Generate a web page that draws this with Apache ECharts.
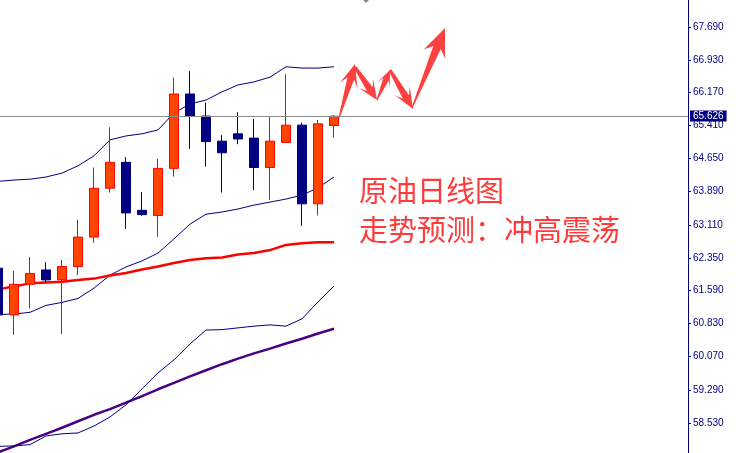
<!DOCTYPE html>
<html>
<head>
<meta charset="utf-8">
<script src="https://cdn.jsdelivr.net/npm/echarts@6/dist/echarts.min.js"></script>
<style>
html,body{margin:0;padding:0;background:#fff;}
#c{width:736px;height:453px;}
</style>
</head>
<body>
<div id="c"></div>
<script>
// ---- data (candle index 0..21) ----
const opens  = [62.11, 61.03, 61.74, 62.07, 61.84, 62.15, 62.83, 63.96, 64.56, 63.45, 63.33, 64.42, 66.14, 65.63, 65.05, 65.22, 65.12, 64.44, 65.02, 65.42, 63.60, 65.41];
const highs  = [62.16, 62.05, 62.37, 62.25, 62.30, 63.23, 64.44, 65.37, 64.68, 63.87, 64.64, 66.52, 66.67, 65.94, 65.19, 65.72, 65.56, 65.63, 66.60, 65.48, 65.54, 65.65];
const lows   = [60.96, 60.57, 61.18, 61.78, 60.59, 61.95, 62.70, 63.86, 63.02, 63.32, 62.84, 64.23, 64.87, 64.46, 63.86, 64.98, 63.92, 63.69, 65.01, 63.09, 63.33, 65.13];
const closes = [61.03, 61.74, 61.99, 61.84, 62.15, 62.83, 63.96, 64.56, 63.39, 63.35, 64.42, 66.14, 65.62, 65.04, 64.78, 65.10, 64.44, 65.05, 65.42, 63.60, 65.45, 65.626];

const bbUpper  = [64.12, 64.15, 64.17, 64.22, 64.31, 64.48, 64.71, 65.08, 65.17, 65.22, 65.31, 65.70, 65.91, 66.00, 66.19, 66.35, 66.42, 66.53, 66.77, 66.74, 66.74, 66.77];
const bbLower  = [61.04, 61.05, 61.09, 61.25, 61.32, 61.41, 61.65, 61.95, 62.14, 62.28, 62.46, 62.79, 63.13, 63.36, 63.41, 63.48, 63.57, 63.64, 63.71, 63.80, 63.97, 64.22];
const maRed    = [61.62, 61.69, 61.76, 61.78, 61.80, 61.84, 61.87, 61.94, 62.00, 62.08, 62.15, 62.23, 62.30, 62.34, 62.36, 62.43, 62.46, 62.53, 62.65, 62.69, 62.71, 62.71];
const envLower = [57.99, 58.00, 58.03, 58.23, 58.28, 58.30, 58.46, 58.67, 58.95, 59.32, 59.69, 59.99, 60.36, 60.68, 60.69, 60.73, 60.77, 60.80, 60.77, 60.94, 61.33, 61.70];
const maPurple = [57.85, 57.99, 58.14, 58.28, 58.42, 58.57, 58.72, 58.85, 59.00, 59.15, 59.31, 59.46, 59.61, 59.75, 59.89, 60.02, 60.14, 60.25, 60.37, 60.48, 60.60, 60.71];

const currentPrice = 65.626;
const tickValues = [58.53, 59.29, 60.07, 60.83, 61.59, 62.35, 63.11, 63.89, 64.65, 65.41, 66.17, 66.93, 67.69];
const titleLines = ['原油日线图', '走势预测：冲高震荡'];

// ---- build series data ----
const candleData = opens.map((o, i) => [i, o, closes[i], lows[i], highs[i]]);
const toXY = arr => arr.map((v, i) => [i, v]);

// arrow polygon helper for the annotation
function arrowPoly(x1, y1, x2, y2, w0, w1, headLen, headW) {
  const dx = x2 - x1, dy = y2 - y1, L = Math.hypot(dx, dy);
  const ux = dx / L, uy = dy / L, nx = -uy, ny = ux;
  const bx = x2 - ux * headLen, by = y2 - uy * headLen;
  const nbx = bx + ux * 4, nby = by + uy * 4;
  const sb = 3;
  return [
    [x1 + nx * w0 / 2, y1 + ny * w0 / 2],
    [nbx + nx * w1 / 2, nby + ny * w1 / 2],
    [bx - ux * sb + nx * headW / 2, by - uy * sb + ny * headW / 2],
    [x2, y2],
    [bx - ux * sb - nx * headW / 2, by - uy * sb - ny * headW / 2],
    [nbx - nx * w1 / 2, nby - ny * w1 / 2],
    [x1 - nx * w0 / 2, y1 - ny * w0 / 2]
  ];
}
const arrowSpecs = [
  [339, 118, 355, 64, 1, 7, 19, 18],
  [355, 67, 377, 100, 3, 7, 17, 17],
  [377, 100, 390, 70, 1, 6, 14, 14],
  [390, 70, 413, 109, 3, 7, 18, 17],
  [412, 108, 445, 28, 1, 8, 25, 23]
];
const arrowGraphics = arrowSpecs.map(s => ({
  type: 'polygon',
  shape: { points: arrowPoly.apply(null, s) },
  style: { fill: '#ff4040' },
  z: 100
}));

const chart = echarts.init(document.getElementById('c'), null, { renderer: 'canvas' });
const labelFont = 'Liberation Sans, Arial, sans-serif';
chart.setOption({
  animation: false,
  backgroundColor: '#ffffff',
  grid: { left: 0, right: 48, top: 0, bottom: 0, containLabel: false },
  xAxis: { type: 'value', min: 0.125, max: 43.125, show: false },
  yAxis: {
    type: 'value', position: 'right', min: 57.836, max: 68.3146,
    axisLine: { show: true, lineStyle: { color: '#000080', width: 1 } },
    axisTick: { show: true, length: 3, inside: false, lineStyle: { color: '#000080' }, customValues: tickValues },
    axisLabel: {
      show: true, margin: 5, color: '#000080', fontSize: 10, fontFamily: labelFont,
      customValues: tickValues, formatter: v => Number(v).toFixed(3)
    },
    splitLine: { show: false }
  },
  series: [
    { type: 'line', data: toXY(maPurple), showSymbol: false, lineStyle: { color: '#4b0082', width: 2.5 }, z: 2 },
    { type: 'line', data: toXY(envLower), showSymbol: false, lineStyle: { color: '#000080', width: 1 }, z: 2 },
    { type: 'line', data: toXY(bbUpper), showSymbol: false, lineStyle: { color: '#000080', width: 1 }, z: 2 },
    { type: 'line', data: toXY(bbLower), showSymbol: false, lineStyle: { color: '#000080', width: 1 }, z: 2 },
    { type: 'line', data: toXY(maRed), showSymbol: false, lineStyle: { color: '#ff0000', width: 2.5 }, z: 2 },
    {
      type: 'candlestick', data: candleData, barWidth: 10, clip: false, z: 3,
      itemStyle: { color: '#ff4500', color0: '#000080', borderColor: '#ff0000', borderColor0: '#000080', borderWidth: 1 },
      markLine: {
        silent: true, symbol: 'none', animation: false,
        lineStyle: { color: '#8c8c8c', width: 1, type: 'solid' },
        label: {
          show: true, position: 'end', distance: 2, formatter: currentPrice.toFixed(3),
          color: '#ffffff', backgroundColor: '#000080', padding: [1, 3, 0, 3],
          fontSize: 10, fontFamily: labelFont
        },
        data: [{ yAxis: currentPrice }]
      }
    }
  ],
  graphic: [
    { type: 'polygon', shape: { points: [[363, 0], [369, 0], [366, 3]] }, style: { fill: '#7a8a9a' } },
    {
      type: 'text', left: 359, top: 176,
      style: { text: titleLines[0], fill: '#ff3a3a', font: '29px "Noto Sans CJK SC", sans-serif' }, z: 100
    },
    {
      type: 'text', left: 359, top: 215,
      style: { text: titleLines[1], fill: '#ff3a3a', font: '29px "Noto Sans CJK SC", sans-serif' }, z: 100
    }
  ].concat(arrowGraphics)
});
</script>
</body>
</html>
